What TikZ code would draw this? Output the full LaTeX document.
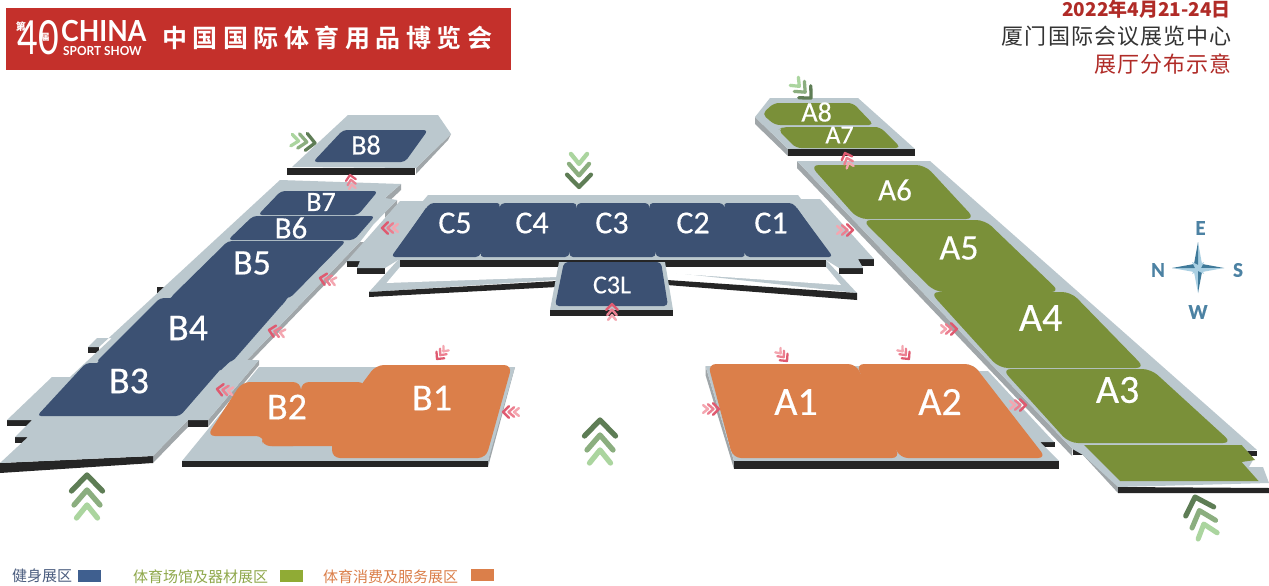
\documentclass[tikz,border=0pt]{standalone}
\usepackage{fontspec}
\setmainfont{Carlito}[FakeBold=0.4]
\newfontfamily\cjk{Noto Sans CJK SC}
\newfontfamily\cjkb[BoldFont={Noto Sans CJK SC Bold},LetterSpace=22]{Noto Sans CJK SC}
\newfontfamily\cjks[LetterSpace=5]{Noto Sans CJK SC}
\newfontfamily\logofont{Lato}
\definecolor{plat}{HTML}{BBC8CE}
\definecolor{sidec}{HTML}{A0A6A9}
\definecolor{blk}{HTML}{252525}
\definecolor{hblue}{HTML}{3C5173}
\definecolor{hgreen}{HTML}{7A9039}
\definecolor{horange}{HTML}{DB7F4A}
\definecolor{gA}{HTML}{5E7D55}
\definecolor{gB}{HTML}{8BAE7F}
\definecolor{gC}{HTML}{ABD59F}
\definecolor{pA}{HTML}{DF5A70}
\definecolor{pB}{HTML}{EC7F90}
\definecolor{pC}{HTML}{F4A6B0}
\definecolor{bannerred}{HTML}{C4302B}
\definecolor{compA}{HTML}{3F7A9A}
\definecolor{compB}{HTML}{A9CFE2}
\definecolor{compT}{HTML}{4C82A3}
\definecolor{legblue}{HTML}{3F5F8F}
\definecolor{leggreen}{HTML}{90AB35}
\definecolor{legtxtb}{HTML}{4A5C7E}
\definecolor{legtxtg}{HTML}{8FA84B}
\newcommand{\triple}[7]{\begin{scope}[shift={(#1,#2)},rotate=#3,scale=#4,line width=#4*4.5pt+0.8pt,line cap=round,line join=round]
\draw[#5] (-15.5,16)--(0,0)--(15.5,16);
\draw[#6] (-13,30)--(0,15)--(13,30);
\draw[#7] (-10.5,43)--(0,30)--(10.5,43);
\end{scope}}
\newcommand{\pink}[4]{\triple{#1}{#2}{#3}{#4}{pA}{pB}{pC}}
\newcommand{\green}[4]{\triple{#1}{#2}{#3}{#4}{gA}{gB}{gC}}
\newcommand{\fs}[1]{\fontsize{#1}{#1}\selectfont}
\tikzset{
 top/.style={fill=plat,draw=none},
 side/.style={fill=sidec,draw=none},
 shadow/.style={fill=blk,draw=none},
 hallb/.style={fill=hblue,draw=none,rounded corners=4},
 hallg/.style={fill=hgreen,draw=none,rounded corners=9},
 hallo/.style={fill=horange,draw=none,rounded corners=8},
 lab/.style={text=white,inner sep=0pt}
}
\begin{document}
\begin{tikzpicture}[x=1pt,y=-1pt]
\useasboundingbox (0,0) rectangle (1269,586);
\fill[white] (0,0) rectangle (1269,586);
% banner
\fill[bannerred] (6,8) rectangle (511,70);
\node[text=white,inner sep=0pt,font=\logofont\fs{47},xscale=.76] (forty) at (38,38) {40};
\node[text=white,inner sep=0pt,font=\cjk\bfseries\fs{10}] (di) at (21,27) {第};
\node[text=white,inner sep=0pt,font=\cjk\bfseries\fs{9}] (jie) at (45,37) {届};
\node[text=white,inner sep=0pt,font=\logofont\bfseries\fs{29},anchor=west,xscale=.92] (china) at (61,31) {CHINA};
\node[text=white,inner sep=0pt,font=\logofont\bfseries\fs{12.5},anchor=west,xscale=.95] (ss) at (63,51) {SPORT SHOW};
\node[text=white,inner sep=0pt,font=\cjkb\bfseries\fs{25},anchor=west] (title) at (162,38) {中国国际体育用品博览会};
% header right
\node[anchor=east,inner sep=0pt,text=bannerred!90!black,font=\cjk\bfseries\fs{19}] (date) at (1231,9) {2022年4月21-24日};
\node[anchor=east,inner sep=0pt,text=black!80,font=\cjks\fs{22}] (venue) at (1232,36) {厦门国际会议展览中心};
\node[anchor=east,inner sep=0pt,text=bannerred!90!black,font=\cjks\fs{22}] (sub) at (1232,64) {展厅分布示意};
% B8
\fill[side] (451,134)--(448,140)--(416,174)--(416,168)--cycle;
\fill[top] (348,115)--(438,115)--(451,134)--(416,168)--(292,167)--cycle;
\fill[shadow] (287,168) rectangle (415,175);
\fill[hallb] (343,130)--(428,130)--(405,162)--(313,162)--cycle;
% B wing platform
\fill[side] (401,184)--(401,190)--(385,205)--(385,198)--cycle;
\fill[side] (397,200)--(397,205)--(385,218)--(385,212)--cycle;
\fill[side] (360,242)--(366,242)--(252,360)--(247,360)--cycle;
\fill[side] (259,360)--(259,365)--(208,427)--(208,420)--cycle;
\fill[side] (188,420)--(188,427)--(153,463)--(153,456)--cycle;
\fill[shadow] (0,463)--(153,456)--(153,463)--(0,473)--cycle;
\fill[shadow] (188,420) rectangle (208,427);
\fill[shadow] (7,420) rectangle (32,426);
\fill[shadow] (15,437) rectangle (28,443);
\fill[shadow] (88,347) rectangle (99,353);
\fill[shadow] (157,287) rectangle (168,293);
\fill[top] (280,180)--(401,184)--(385,198)--(397,200)--(373,225)--(360,242)--(247,360)--(259,360)--(208,420)--(188,420)--(153,456)--(0,463)--(28,437)--(15,437)--(32,420)--(7,420)--(52,377)--(70,377)--(112,338)--(97,338)--(88,347)--(99,347)--cycle;
% C platform
\fill[shadow] (347,261) rectangle (360,267);
\fill[shadow] (357,268) rectangle (385,274);
\fill[shadow] (858,259) rectangle (874,266);
\fill[shadow] (839,268) rectangle (863,274);
\fill[top] (398,260)--(369,292)--(557,280)--(559,262)--cycle;
\fill[top] (665,262)--(667,272)--(857,293)--(826,260)--cycle;
\fill[white] (400,267)--(560,267)--(557,277)--(386.5,283)--cycle;
\fill[white] (665,267)--(826,267)--(841,285)--(666,273)--cycle;
\fill[shadow] (369,292)--(557,281)--(557,287)--(369,297)--cycle;
\fill[shadow] (667,280)--(857,293)--(857,300)--(667,285)--cycle;
\fill[top] (428,195)--(798,195)--(801,199)--(820,199)--(874,259)--(858,259)--(863,268)--(839,268)--(826,260)--(398,260)--(385,268)--(357,268)--(360,261)--(347,261)--(400,201)--(423,201)--cycle;
\fill[shadow] (400,260) rectangle (826,267);
% C halls
\fill[hallb] (430,203)--(501,203)--(479.5,257)--(391,257)--cycle;
\fill[hallb] (501,203)--(577,203)--(569,257)--(479.5,257)--cycle;
\fill[hallb] (577,203)--(649,203)--(656,257)--(569,257)--cycle;
\fill[hallb] (649,203)--(723,203)--(746,257)--(656,257)--cycle;
\fill[hallb] (723,203)--(793,203)--(833,257)--(746,257)--cycle;
\fill[hblue] (426,208)--(797,208)--(828,252)--(396,252)--cycle;
% C3L
\fill[top] (559,262)--(665,262)--(673,310)--(550,310)--cycle;
\fill[shadow] (550,310) rectangle (673,316);
\fill[hallb] (564,262)--(661,262)--(668,306)--(555,306)--cycle;
% B halls
\fill[hallb] (281,191)--(378,191)--(358,215)--(258,215)--cycle;
\fill[hallb] (253,216)--(375,216)--(354,240)--(228,240)--cycle;
\fill[hallb] (228,241)--(346,241)--(290,298)--(170,298)--cycle;
\fill[hallb] (160,298)--(288,298)--(232,362)--(96,362)--cycle;
\fill[hallb] (86,363)--(226,363)--(180,416)--(37,416)--cycle;
\fill[hblue] (180,290)--(294,290)--(282,305)--(162,305)--cycle;
\fill[hblue] (104,356)--(236,356)--(221,370)--(90,370)--cycle;
% B orange
\fill[side] (515,367)--(488,467)--(488,461)--(510,367)--cycle;
\fill[top] (259,367)--(515,367)--(488,461)--(182,461)--cycle;
\fill[shadow] (182,461) rectangle (488,467);
\fill[hallo] (242,382)--(301,382)--(301,446)--(264,446)--(264,436)--(207,436)--cycle;
\fill[hallo] (301,382)--(366,382)--(366,446)--(262,446)--(262,436)--(301,436)--cycle;
\fill[horange] (296,390)--(306,390)--(306,440)--(296,440)--cycle;
\fill[hallo] (376,365)--(512,365)--(486,458)--(332,458)--(332,440)--(350,400)--cycle;
% A8 A7
\fill[side] (755,117)--(755,124)--(788,156)--(788,149)--cycle;
\fill[top] (770,98)--(858,98)--(915,149)--(788,149)--(755,117)--cycle;
\fill[shadow] (788,149) rectangle (915,156);
\fill[hgreen,rounded corners=5] (774,103)--(853,103)--(874,125)--(775,125)--(762,114)--cycle;
\fill[hgreen,rounded corners=5] (783,127)--(880,127)--(901,148)--(796,148)--(778,130)--cycle;
% A wing platform
\fill[side] (797,161)--(797,168)--(1072,456)--(1072.5,449)--cycle;
\fill[side] (1083,455)--(1118,493)--(1118,482)--(1087,445)--cycle;
\fill[shadow] (1072.5,449) rectangle (1083,455);
\fill[shadow] (1247,451) rectangle (1257,456);
\fill[shadow] (1249,467) rectangle (1263,472);
\fill[top] (797,161)--(930,161)--(1257,450)--(1247,451)--(1253,460)--(1249,467)--(1263,467)--(1269,483)--(1118,487)--(1083,455)--(1072.5,449)--cycle;
\fill[shadow] (1118,487)--(1269,488)--(1269,493)--(1118,493)--cycle;
\fill[hallg] (810,165)--(925,165)--(975,219)--(858,219)--cycle;
\fill[hallg] (862,220)--(985,220)--(1060,292)--(935,292)--cycle;
\fill[hallg] (930,292)--(1071,292)--(1145,368)--(999,368)--cycle;
\fill[hallg] (1002,369)--(1151,369)--(1232,443)--(1069,443)--cycle;
\fill[hgreen] (1084,445)--(1241.6,445)--(1255,460)--(1241.6,462)--(1258.5,481)--(1120,481)--cycle;
% A orange
\fill[side] (705.5,366)--(705.5,375)--(734,469)--(734,461)--cycle;
\fill[shadow] (1040,442) rectangle (1055,447);
\fill[top] (705.5,366)--(973,366)--(979,371)--(988,371)--(1054,442)--(1040,442)--(1059,461)--(734,461)--cycle;
\fill[shadow] (734,461) rectangle (1059,469);
\fill[hallo] (708,364)--(856,364)--(900,458)--(733,458)--cycle;
\fill[hallo] (856,364)--(973,364)--(1046,458)--(900,458)--cycle;
\fill[horange] (712,374)--(980,374)--(1039,450)--(731,450)--cycle;
% labels
\node[lab,font=\fs{28}] (lb8) at (366,145) {B8};
\node[lab,font=\fs{28}] (lb7) at (321,202) {B7};
\node[lab,font=\fs{31}] (lb6) at (291,228) {B6};
\node[lab,font=\fs{36}] (lb5) at (252,263) {B5};
\node[lab,font=\fs{38}] (lb4) at (188,328) {B4};
\node[lab,font=\fs{38}] (lb3) at (129,381) {B3};
\node[lab,font=\fs{38}] (lb2) at (287,407) {B2};
\node[lab,font=\fs{38}] (lb1) at (432,398) {B1};
\node[lab,font=\fs{32}] (lc5) at (455,223) {C5};
\node[lab,font=\fs{32}] (lc4) at (532,223) {C4};
\node[lab,font=\fs{32}] (lc3) at (612,223) {C3};
\node[lab,font=\fs{32}] (lc2) at (693,223) {C2};
\node[lab,font=\fs{32}] (lc1) at (771,223) {C1};
\node[lab,font=\fs{26}] (lc3l) at (612,285) {C3L};
\node[lab,font=\fs{28}] (la8) at (816.6,112) {A8};
\node[lab,font=\fs{26}] (la7) at (839.5,135) {A7};
\node[lab,font=\fs{31}] (la6) at (895,190) {A6};
\node[lab,font=\fs{36}] (la5) at (959,248) {A5};
\node[lab,font=\fs{40}] (la4) at (1040.6,318) {A4};
\node[lab,font=\fs{40}] (la3) at (1117.6,390) {A3};
\node[lab,font=\fs{40}] (la1) at (796,402) {A1};
\node[lab,font=\fs{40}] (la2) at (940,402) {A2};
% green chevrons
\green{87}{475}{0}{1}
\green{600}{420}{0}{1}
\green{579}{187}{180}{.77}
\green{1195}{497}{18}{.95}
\green{811}{98}{-135}{.55}
\green{315}{143}{-97}{.55}
% pink chevrons
\pink{382}{228}{90}{.37}
\pink{320}{278}{78}{.37}
\pink{269}{330}{78}{.37}
\pink{217}{389}{82}{.37}
\pink{503}{412}{90}{.37}
\pink{437}{359}{140}{.33}
\pink{350}{175}{10}{.32}
\pink{845}{153}{20}{.35}
\pink{853}{230}{-90}{.37}
\pink{612}{304}{0}{.37}
\pink{719}{409}{-90}{.37}
\pink{787}{361}{-140}{.33}
\pink{909}{359}{-140}{.33}
\pink{957}{329}{-90}{.37}
\pink{1026}{405}{-90}{.37}
% compass
\fill[compB] (1198,268)--(1198,242)--(1202,264)--cycle;
\fill[compA] (1198,268)--(1198,242)--(1194,264)--cycle;
\fill[compA] (1198,268)--(1224,268)--(1202,264)--cycle;
\fill[compB] (1198,268)--(1224,268)--(1202,272)--cycle;
\fill[compB] (1198,268)--(1198,293)--(1194,272)--cycle;
\fill[compA] (1198,268)--(1198,293)--(1202,272)--cycle;
\fill[compB] (1198,268)--(1172,268)--(1194,272)--cycle;
\fill[compA] (1198,268)--(1172,268)--(1194,264)--cycle;
\fill[compB] (1192,262)--(1198,265)--(1204,262)--(1201,268)--(1204,274)--(1198,271)--(1192,274)--(1195,268)--cycle;
\node[inner sep=0pt,text=compT,font=\bfseries\fs{21}] (ce) at (1200.5,228) {E};
\node[inner sep=0pt,text=compT,font=\bfseries\fs{21}] (cn) at (1158,270) {N};
\node[inner sep=0pt,text=compT,font=\bfseries\fs{21}] (cs) at (1238,270) {S};
\node[inner sep=0pt,text=compT,font=\bfseries\fs{21}] (cw) at (1198,312) {W};
% legend
\node[anchor=west,inner sep=0pt,text=legtxtb,font=\cjk\fs{15}] (lg1) at (12,576) {健身展区};
\fill[legblue] (78,570) rectangle (101,582);
\node[anchor=west,inner sep=0pt,text=legtxtg,font=\cjk\fs{15}] (lg2) at (133,577) {体育场馆及器材展区};
\fill[leggreen] (280,570) rectangle (303,582);
\node[anchor=west,inner sep=0pt,text=horange,font=\cjk\fs{15}] (lg3) at (323,577) {体育消费及服务展区};
\fill[horange] (471,569) rectangle (494,581);
\end{tikzpicture}
\end{document}
